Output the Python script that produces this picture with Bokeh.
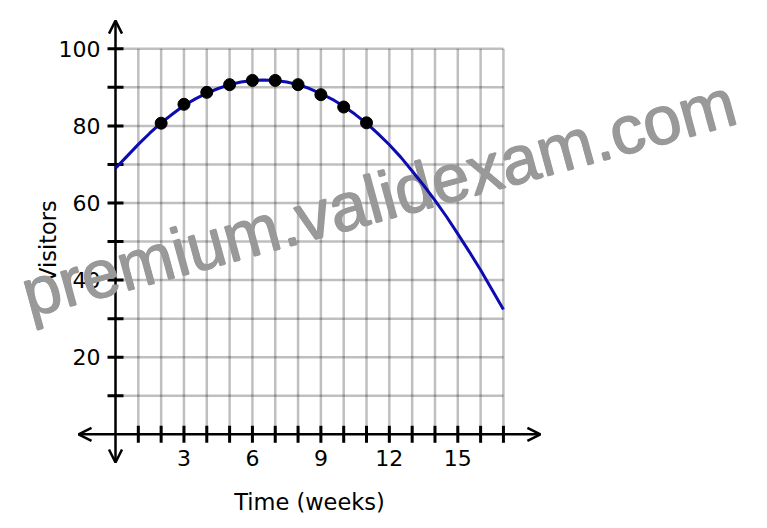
from math import pi, radians
from bokeh.plotting import figure
from bokeh.models import Range1d, Arrow, OpenHead
from bokeh.core.properties import value
from bokeh.embed import file_html
from bokeh.resources import INLINE

# ---- data ----
weeks = [2, 3, 4, 5, 6, 7, 8, 9, 10, 11]
visitors = [80.7, 85.6, 88.7, 90.7, 91.8, 91.8, 90.7, 88.1, 84.9, 80.8]

curve_x = [0, 0.5, 1, 1.5, 2, 2.5, 3, 3.5, 4, 4.5, 5, 5.5, 6, 6.5, 7, 7.5, 8, 8.5,
           9, 9.5, 10, 10.5, 11, 11.5, 12, 12.5, 13, 13.5, 14, 14.5, 15, 15.5, 16,
           16.5, 17]
curve_y = [69.0, 72.1, 75.2, 78.1, 80.8, 83.1, 85.3, 87.0, 88.5, 89.7, 90.7, 91.4,
           91.8, 91.9, 91.8, 91.4, 90.7, 89.7, 88.4, 86.9, 85.1, 83.0, 80.7, 78.0,
           75.1, 71.9, 68.3, 64.6, 60.7, 56.5, 52.0, 47.4, 42.6, 37.5, 32.4]

x_tick_vals = list(range(1, 18))
x_label_vals = [3, 6, 9, 12, 15]
y_tick_vals = list(range(10, 101, 10))
y_label_vals = [20, 40, 60, 80, 100]
x_title = "Time (weeks)"
y_title = "Visitors"
watermark = "premium.validexam.com"

# ---- layout constants ----
W, H = 758, 522
X0_PX, Y0_PX = 115.0, 433.8     # canvas pixel of the origin
PX_X, PX_Y = 22.82, 3.855       # pixels per unit
FONT = value("DejaVu Sans")

p = figure(width=W, height=H,
           x_range=Range1d(-X0_PX / PX_X, (W - X0_PX) / PX_X),
           y_range=Range1d(-(H - Y0_PX) / PX_Y, Y0_PX / PX_Y),
           output_backend="svg", toolbar_location=None,
           x_axis_location=None, y_axis_location=None, min_border=0)
p.grid.visible = False
p.outline_line_color = None

x_max = max(x_tick_vals)
y_max = max(y_tick_vals)

# grid
p.segment(x0=x_tick_vals, y0=0, x1=x_tick_vals, y1=y_max,
          line_color="black", line_alpha=0.25, line_width=2.5)
p.segment(x0=0, y0=y_tick_vals, x1=x_max, y1=y_tick_vals,
          line_color="black", line_alpha=0.25, line_width=2.5)

# axes with arrows
head = dict(size=13, line_width=2.5, line_color="black")
p.add_layout(Arrow(start=OpenHead(**head), end=OpenHead(**head),
                   x_start=-1.62, y_start=0, x_end=18.62, y_end=0,
                   line_width=2.5, line_color="black", level="underlay"))
p.add_layout(Arrow(start=OpenHead(**head), end=OpenHead(**head),
                   x_start=0, y_start=-7.3, x_end=0, y_end=107.3,
                   line_width=2.5, line_color="black", level="underlay"))

# ticks
p.scatter(x=x_tick_vals, y=0, marker="dash", size=17, angle=pi / 2,
          line_width=3, line_color="black")
p.scatter(x=0, y=y_tick_vals, marker="dash", size=16,
          line_width=3, line_color="black")

# tick labels
p.text(x=x_label_vals, y=0, text=[str(v) for v in x_label_vals],
       y_offset=24, text_align="center", text_baseline="middle",
       text_font=FONT, text_font_size="22px", text_color="black")
p.text(x=0, y=y_label_vals, text=[str(v) for v in y_label_vals],
       x_offset=-15, text_align="right", text_baseline="middle",
       text_font=FONT, text_font_size="22px", text_color="black")

# axis titles
p.text(x=[x_max / 2], y=[0], text=[x_title], y_offset=68,
       text_align="center", text_baseline="middle",
       text_font=FONT, text_font_size="22.5px", text_color="black")
p.text(x=[0], y=[y_max / 2], text=[y_title], x_offset=-68, angle=pi / 2,
       text_align="center", text_baseline="middle",
       text_font=FONT, text_font_size="22.5px", text_color="black")

# watermark (drawn a few times with sub-pixel shifts to thicken strokes)
shifts = [(-0.7, 0), (0.7, 0), (0, -0.7), (0, 0.7)]
p.text(x=[11.52] * 4, y=[61.5] * 4, text=[watermark] * 4,
       x_offset=[s[0] for s in shifts], y_offset=[s[1] for s in shifts],
       angle=radians(15.3), text_align="center", text_baseline="alphabetic",
       text_font=value("Liberation Sans"), text_font_size="68px",
       text_color="#999999")

# curve and points
p.line(curve_x, curve_y, line_color="#0c0cb0", line_width=3)
p.scatter(weeks, visitors, size=12, color="black")

open("out.html", "w").write(file_html(p, INLINE))
